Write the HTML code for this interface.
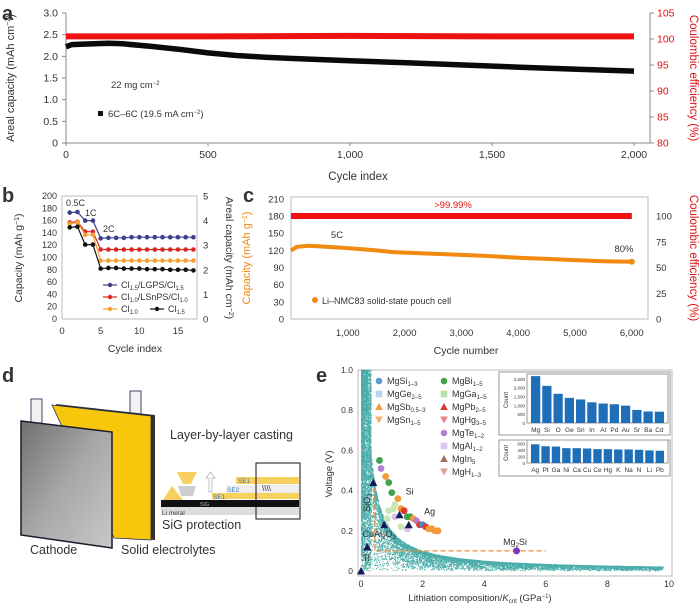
<!DOCTYPE html>
<html><head><meta charset="utf-8">
<style>
html,body{margin:0;padding:0;background:#fff;}
svg{display:block;font-family:"Liberation Sans",sans-serif;}
text{fill:#333;}
</style></head>
<body>
<svg id="fig" width="700" height="609" viewBox="0 0 700 609" xmlns="http://www.w3.org/2000/svg">
<text x="2" y="20" font-size="20" font-weight="bold" fill="#111">a</text>
<text x="2" y="202" font-size="20" font-weight="bold" fill="#111">b</text>
<text x="243" y="202" font-size="20" font-weight="bold" fill="#111">c</text>
<text x="2" y="382" font-size="20" font-weight="bold" fill="#111">d</text>
<text x="316" y="382" font-size="20" font-weight="bold" fill="#111">e</text>

<g id="pa">
 <line x1="66" y1="13" x2="66" y2="143" stroke="#888"/>
 <line x1="66" y1="143" x2="650" y2="143" stroke="#888"/>
 <line x1="650" y1="13" x2="650" y2="143" stroke="#888"/>
 <text x="14" y="78" font-size="11" text-anchor="middle" transform="rotate(-90 14 78)">Areal capacity (mAh cm<tspan dy="-4" font-size="7">−2</tspan><tspan dy="4">)</tspan></text>
 <text x="690" y="78" font-size="11.5" text-anchor="middle" style="fill:#e01010" transform="rotate(90 690 78)">Coulombic efficiency (%)</text>
 <text x="358" y="180" font-size="11.5" text-anchor="middle">Cycle index</text>
 <text x="111" y="88" font-size="9.5">22 mg cm<tspan dy="-3" font-size="6">−2</tspan></text>
 <rect x="98" y="111" width="5" height="5" fill="#111"/>
 <text x="108" y="117" font-size="9.5">6C–6C (19.5 mA cm<tspan dy="-3" font-size="6">−2</tspan><tspan dy="3">)</tspan></text>
</g>

<g id="pb">
 <rect x="62" y="196" width="135" height="123" fill="none" stroke="#bbb"/>
 <text x="22" y="258" font-size="10.5" text-anchor="middle" transform="rotate(-90 22 258)">Capacity (mAh g<tspan dy="-3" font-size="7">−1</tspan><tspan dy="3">)</tspan></text>
 <text x="226" y="258" font-size="10.5" text-anchor="middle" transform="rotate(90 226 258)">Areal capacity (mAh cm<tspan dy="-3" font-size="7">−2</tspan><tspan dy="3">)</tspan></text>
 <text x="135" y="352" font-size="10.5" text-anchor="middle">Cycle index</text>
 <text x="66" y="206" font-size="9">0.5C</text>
 <text x="85" y="216" font-size="9">1C</text>
 <text x="103" y="232" font-size="9">2C</text>
</g>

<g id="pc">
 <rect x="291" y="197" width="357" height="122" fill="none" stroke="#bbb"/>
 <text x="250" y="258" font-size="11" text-anchor="middle" style="fill:#f08a10" transform="rotate(-90 250 258)">Capacity (mAh g<tspan dy="-3" font-size="7">−1</tspan><tspan dy="3">)</tspan></text>
 <text x="690" y="258" font-size="11.5" text-anchor="middle" style="fill:#e01010" transform="rotate(90 690 258)">Coulombic efficiency (%)</text>
 <text x="466" y="354" font-size="10.5" text-anchor="middle">Cycle number</text>
 <text x="453" y="208" font-size="9.5" text-anchor="middle" style="fill:#e01010">&gt;99.99%</text>
 <text x="337" y="238" font-size="9.5" text-anchor="middle">5C</text>
 <text x="624" y="252" font-size="9.5" text-anchor="middle">80%</text>
 <circle cx="315" cy="300" r="3" fill="#f08a10"/>
 <text x="322" y="304" font-size="9">Li–NMC83 solid-state pouch cell</text>
</g>

<g id="pd">
 <defs>
  <linearGradient id="gcath" x1="0" y1="0" x2="1" y2="1">
   <stop offset="0" stop-color="#707070"/><stop offset="0.5" stop-color="#a8a8a8"/><stop offset="1" stop-color="#c8c8c8"/>
  </linearGradient>
 </defs>
 <rect x="31" y="399" width="11" height="24" fill="#f2f2f2" stroke="#3a4a66" stroke-width="1"/>
 <rect x="130" y="391" width="11" height="24" fill="#f2f2f2" stroke="#3a4a66" stroke-width="1"/>
 <polygon points="56,404 155,415 155,540 118,538" fill="#333"/>
 <polygon points="52,405 151,416 151,540 114,538" fill="#f8c60a" stroke="#1f2f55" stroke-width="0.8"/>
 <polygon points="21,421 112,432 112,548 21,535" fill="url(#gcath)" stroke="#1b1b2b" stroke-width="1.5"/>
 <text x="30" y="554" font-size="12.5" fill="#111">Cathode</text>
 <text x="121" y="554" font-size="12.5" fill="#111">Solid electrolytes</text>
 <text x="170" y="439" font-size="12.5" fill="#111">Layer-by-layer casting</text>
 <rect x="161" y="507" width="138" height="8" fill="#ddd"/>
 <rect x="161" y="500" width="138" height="7" fill="#111"/>
 <rect x="212" y="493" width="87" height="6" fill="#f8d060"/>
 <rect x="226" y="485" width="73" height="8" fill="#eee"/>
 <rect x="236" y="477" width="63" height="7" fill="#f8d060"/>
 <polygon points="163,500 172,486 183,500" fill="#f8d060"/>
 <polygon points="177,472 197,472 191,484 183,484" fill="#f8d060"/>
 <polygon points="178,486 196,486 193,496 181,496" fill="#cfcfcf"/>
 <path d="M209 492 L209 478 L206 478 L210.5 472 L215 478 L212 478 L212 492 Z" fill="#fff" stroke="#aaa" stroke-width="0.7"/>
 <text x="238" y="483" font-size="6.5" style="fill:#3a7ab8">SE1</text>
 <text x="227" y="492" font-size="6.5" style="fill:#3a7ab8">SE2</text>
 <text x="213" y="499" font-size="6.5" style="fill:#3a7ab8">SE1</text>
 <text x="200" y="506" font-size="5.5" style="fill:#bbb">SiG</text>
 <text x="162" y="515" font-size="6.5" style="fill:#444">Li metal</text>
 <rect x="256" y="463" width="44" height="56" fill="none" stroke="#111" stroke-width="1"/>
 <text x="262" y="491" font-size="8" fill="#111">\\\\</text>
 <text x="162" y="529" font-size="12.5" fill="#111">SiG protection</text>
</g>

<g id="pe">
 <rect x="358" y="370" width="314" height="206" fill="none" stroke="#bbb"/>
 <text x="332" y="474" font-size="9.5" text-anchor="middle" transform="rotate(-90 332 474)">Voltage (V)</text>
 <text x="480" y="601" font-size="9.5" text-anchor="middle">Lithiation composition/<tspan font-style="italic">K</tspan><tspan font-size="6" dy="2">crit</tspan><tspan dy="-2"> (GPa</tspan><tspan dy="-3" font-size="6">−1</tspan><tspan dy="3">)</tspan></text>
</g>
<g id="layer-cloud"></g>
<g id="layer-marks"></g>
</svg>

<script>
// ===== Panel a data =====
const aCycles = [0, 20, 50, 100, 150, 200, 300, 400, 500, 600, 700, 800, 1000, 1200, 1400, 1600, 1800, 2000];
const aCapacity = [2.22, 2.27, 2.28, 2.29, 2.30, 2.29, 2.23, 2.16, 2.08, 2.02, 1.98, 1.95, 1.90, 1.85, 1.80, 1.75, 1.70, 1.66];
const aCeCycles = [0, 500, 1000, 1500, 2000];
const aCe = [100.5, 100.5, 100.6, 100.5, 100.5];
const aXTicks = [0, 500, 1000, 1500, 2000];
const aXTickLabels = ["0", "500", "1,000", "1,500", "2,000"];
const aYTicks = [0, 0.5, 1.0, 1.5, 2.0, 2.5, 3.0];
const aYTickLabels = ["0", "0.5", "1.0", "1.5", "2.0", "2.5", "3.0"];
const aY2Ticks = [80, 85, 90, 95, 100, 105];

// ===== Panel b data =====
const bCycles = [1, 2, 3, 4, 5, 6, 7, 8, 9, 10, 11, 12, 13, 14, 15, 16, 17];
const bLGPS = [173, 174, 160, 160, 131, 132, 132, 132, 133, 133, 133, 133, 133, 133, 133, 133, 133];
const bLSnPS = [157, 158, 142, 142, 113, 113, 113, 113, 113, 113, 113, 113, 113, 113, 113, 113, 113];
const bCl10 = [155, 157, 137, 137, 95, 95, 95, 95, 95, 95, 95, 95, 95, 95, 95, 95, 95];
const bCl15 = [149, 150, 121, 121, 82, 83, 83, 82, 82, 82, 81, 81, 81, 80, 80, 80, 79];
const bXTicks = [0, 5, 10, 15];
const bYTicks = [0, 20, 40, 60, 80, 100, 120, 140, 160, 180, 200];
const bY2Ticks = [0, 1, 2, 3, 4, 5];

// ===== Panel c data =====
const cCycles = [0, 100, 300, 500, 1000, 1500, 1800, 2000, 2500, 3000, 3500, 4000, 4500, 5000, 5500, 6000];
const cCapacity = [120, 126, 128, 127, 124, 120, 117, 116, 114, 112, 110, 107, 105, 103, 101, 100];
const cCeCycles = [0, 6000];
const cCe = [100, 100];
const cXTicks = [1000, 2000, 3000, 4000, 5000, 6000];
const cXTickLabels = ["1,000", "2,000", "3,000", "4,000", "5,000", "6,000"];
const cYTicks = [0, 30, 60, 90, 120, 150, 180, 210];
const cY2Ticks = [0, 25, 50, 75, 100];

// ===== Panel e data =====
const eXTicks = [0, 2, 4, 6, 8, 10];
const eYTicks = [0, 0.2, 0.4, 0.6, 0.8, 1.0];
const eYTickLabels = ["0", "0.2", "0.4", "0.6", "0.8", "1.0"];
const eRefX = [0, 0.2, 0.4, 0.75, 1.25, 1.55];
const eRefV = [0.0, 0.12, 0.44, 0.23, 0.28, 0.23];
const eCompX = [0.6, 0.65, 0.8, 0.9, 1.0, 1.1, 1.2, 1.3, 1.4, 1.5, 1.6, 1.7, 1.8, 1.9, 2.0, 2.1, 2.2, 2.3, 2.4, 2.5, 0.9, 1.1, 1.3, 1.5, 0.85, 1.05];
const eCompV = [0.55, 0.51, 0.47, 0.44, 0.39, 0.33, 0.36, 0.31, 0.30, 0.27, 0.27, 0.26, 0.25, 0.23, 0.23, 0.22, 0.21, 0.21, 0.20, 0.20, 0.30, 0.27, 0.22, 0.21, 0.26, 0.31];
const eCompColor = ["#3fa34d","#b57fd0","#f59a3a","#3fa34d","#3fa34d","#c9e6b5","#f59a3a","#f59a3a","#e23a2a","#3fa34d","#3fa34d","#f59a3a","#b57fd0","#e23a2a","#3a8cd0","#e23a2a","#f59a3a","#f59a3a","#f59a3a","#f59a3a","#c9e6b5","#d9c0e8","#c9e6b5","#d9c0e8","#c9e6b5","#c9e6b5"];
const eMg2SiX = [5.05];
const eMg2SiV = [0.10];
const eInset1Cats = ["Mg","Si","O","Ge","Sn","In","Al","Pd","Au","Sr","Ba","Cd"];
const eInset1Vals = [2650, 2100, 1650, 1420, 1330, 1170, 1100, 1060, 980, 740, 650, 640];
const eInset1Ticks = [0, 500, 1000, 1500, 2000, 2500];
const eInset1TickLabels = ["0", "500", "1,000", "1,500", "2,000", "2,500"];
const eInset2Cats = ["Ag","Pt","Ga","Ni","Ca","Cu","Ce","Hg","K","Na","N","Li","Pb"];
const eInset2Vals = [580, 520, 510, 460, 460, 450, 430, 430, 420, 420, 410, 390, 380];
const eInset2Ticks = [0, 200, 400, 600];

const NS = "http://www.w3.org/2000/svg";
const marks = document.getElementById('layer-marks');
const cloud = document.getElementById('layer-cloud');
function mk(tag, parent) { const e = document.createElementNS(NS, tag); (parent || marks).appendChild(e); return e; }
function txt(x, y, s, size, anchor, color) {
  const t = mk('text');
  t.setAttribute('x', x); t.setAttribute('y', y);
  t.setAttribute('font-size', size); t.setAttribute('text-anchor', anchor || 'middle');
  if (color) t.setAttribute('style', 'fill:' + color);
  t.textContent = s;
  return t;
}
function pathFrom(xs, ys, fx, fy) { return xs.map((v, i) => (i ? 'L' : 'M') + fx(v).toFixed(1) + ' ' + fy(ys[i]).toFixed(1)).join(' '); }

// ===== Panel a =====
const xa = v => 66 + v * (634 - 66) / 2000;
const ya = v => 143 - v * 130 / 3;
const ya2 = v => 143 - (v - 80) * 130 / 25;
aXTicks.forEach((v, i) => {
  const t = txt(xa(v), 158, aXTickLabels[i], 10.5);
  
  
  const l = mk('line'); l.setAttribute('x1', xa(v)); l.setAttribute('x2', xa(v)); l.setAttribute('y1', 143); l.setAttribute('y2', 146); l.setAttribute('stroke', '#888');
  
  
});
aYTicks.forEach((v, i) => {
  const t = txt(58, ya(v) + 3.5, aYTickLabels[i], 10.5, 'end');
  
  
  const l = mk('line'); l.setAttribute('x1', 62); l.setAttribute('x2', 66); l.setAttribute('y1', ya(v)); l.setAttribute('y2', ya(v)); l.setAttribute('stroke', '#888');
  
  
});
aY2Ticks.forEach(v => {
  const t = txt(657, ya2(v) + 3.5, String(v), 10.5, 'start', '#e01010');
  
  
  const l = mk('line'); l.setAttribute('x1', 650); l.setAttribute('x2', 654); l.setAttribute('y1', ya2(v)); l.setAttribute('y2', ya2(v)); l.setAttribute('stroke', '#888');
  
  
});
{
  const p = mk('path'); p.setAttribute('d', pathFrom(aCeCycles, aCe, xa, ya2)); p.setAttribute('stroke', '#ee1111'); p.setAttribute('stroke-width', 6); p.setAttribute('fill', 'none');
  
  
  const q = mk('path'); q.setAttribute('d', pathFrom(aCycles, aCapacity, xa, ya)); q.setAttribute('stroke', '#0a0a0a'); q.setAttribute('stroke-width', 5.5); q.setAttribute('fill', 'none');
  
  
}

// ===== Panel b =====
const xb = v => 62 + v * 7.73;
const yb = v => 319 - v * 123 / 200;
const yb2 = v => 319 - v * 123 / 5;
bXTicks.forEach(v => {
  const t = txt(xb(v), 334, String(v), 9.5);
  
  
});
bYTicks.forEach(v => {
  const t = txt(57, yb(v) + 3, String(v), 9, 'end');
  
  
});
bY2Ticks.forEach(v => {
  const t = txt(203, yb2(v) + 3.5, String(v), 9.5, 'start');
  
  
});
const bSeries = [[bLGPS, '#3c3f8c', 'b-series-lgps'], [bLSnPS, '#e02525', 'b-series-lsnps'], [bCl10, '#f5a030', 'b-series-cl10'], [bCl15, '#111111', 'b-series-cl15']];
bSeries.forEach(([vals, col, nm]) => {
  const p = mk('path'); p.setAttribute('d', pathFrom(bCycles, vals, xb, yb)); p.setAttribute('stroke', col); p.setAttribute('stroke-width', 1.2); p.setAttribute('fill', 'none');
  
  
  vals.forEach((v, i) => {
    const c = mk('circle'); c.setAttribute('cx', xb(bCycles[i])); c.setAttribute('cy', yb(v)); c.setAttribute('r', 2.3); c.setAttribute('fill', col);
    
    
  });
});
const bLeg = [[103, 288, '#3c3f8c', 'Cl', '1.5', '/LGPS/Cl', '1.5'], [103, 300, '#e02525', 'Cl', '1.0', '/LSnPS/Cl', '1.0'], [103, 312, '#f5a030', 'Cl', '1.0', '', ''], [150, 312, '#111111', 'Cl', '1.5', '', '']];
bLeg.forEach(([x, y, col, a, s1, b, s2]) => {
  const l = mk('line'); l.setAttribute('x1', x); l.setAttribute('x2', x + 14); l.setAttribute('y1', y - 3); l.setAttribute('y2', y - 3); l.setAttribute('stroke', col); l.setAttribute('stroke-width', 1.2);
  
  
  const c = mk('circle'); c.setAttribute('cx', x + 7); c.setAttribute('cy', y - 3); c.setAttribute('r', 2.2); c.setAttribute('fill', col);
  
  
  const t = mk('text'); t.setAttribute('x', x + 18); t.setAttribute('y', y); t.setAttribute('font-size', 9);
  
  
  t.innerHTML = a + '<tspan font-size="6" dy="2">' + s1 + '</tspan><tspan dy="-2">' + b + '</tspan>' + (s2 ? '<tspan font-size="6" dy="2">' + s2 + '</tspan>' : '');
});

// ===== Panel c =====
const xc = v => 291 + v * 0.0568;
const yc = v => 319 - v * 0.572;
const yc2 = v => 319 - v * 1.03;
cXTicks.forEach((v, i) => {
  const t = txt(xc(v), 336, cXTickLabels[i], 9.5);
  
  
});
cYTicks.forEach(v => {
  const t = txt(284, yc(v) + 3.5, String(v), 9.5, 'end');
  
  
});
cY2Ticks.forEach(v => {
  const t = txt(656, yc2(v) + 3.5, String(v), 9.5, 'start');
  
  
});
{
  const p = mk('path'); p.setAttribute('d', pathFrom(cCeCycles, cCe, xc, yc2)); p.setAttribute('stroke', '#ee1111'); p.setAttribute('stroke-width', 6); p.setAttribute('fill', 'none');
  
  
  const q = mk('path'); q.setAttribute('d', pathFrom(cCycles, cCapacity, xc, yc)); q.setAttribute('stroke', '#f08a10'); q.setAttribute('stroke-width', 4); q.setAttribute('fill', 'none');
  
  
  const e = mk('circle'); e.setAttribute('cx', xc(cCycles[cCycles.length - 1])); e.setAttribute('cy', yc(cCapacity[cCapacity.length - 1])); e.setAttribute('r', 3); e.setAttribute('fill', '#f08a10');
  
  
}

// ===== Panel e =====
const xe = v => 361 + v * 30.8;
const ye = v => 571 - v * 201;
eXTicks.forEach(v => {
  const t = txt(xe(v), 587, String(v), 9);
  
  
});
eYTicks.forEach((v, i) => {
  const t = txt(353, ye(v) + 3, eYTickLabels[i], 8.5, 'end');
  
  
});
// scatter cloud texture (deterministic)
let seed = 12345;
function rnd() { seed = (seed * 1103515245 + 12345) % 2147483648; return seed / 2147483648; }
let cloudPath = '';
for (let i = 0; i < 11000; i++) {
  let x, y;
  const r = rnd();
  if (r < 0.25) { x = Math.pow(rnd(), 1.3) * 0.32; y = Math.pow(rnd(), 0.8); }
  else if (r < 0.5) { x = Math.pow(rnd(), 1.7) * 9.8; const cap = Math.min(1, 0.2 / (x + 0.02)); y = cap * (0.8 + 0.2 * rnd()); }
  else { x = Math.pow(rnd(), 1.9) * 9.8; const cap = Math.min(1, 0.2 / (x + 0.02)); y = cap * Math.pow(rnd(), 0.6); }
  if (y > 1) y = 1;
  cloudPath += 'M' + xe(x).toFixed(1) + ' ' + ye(y).toFixed(1) + 'h1';
}
{
  const p = mk('path', cloud); p.setAttribute('d', cloudPath); p.setAttribute('stroke', '#1e9893'); p.setAttribute('stroke-width', 1.1); p.setAttribute('fill', 'none'); p.setAttribute('opacity', 0.8);
  
  
}
{
  const d = mk('path'); d.setAttribute('d', 'M' + xe(0.45) + ' ' + ye(0.45) + ' L' + xe(0.45) + ' ' + ye(0.1) + ' L' + xe(6) + ' ' + ye(0.1));
  d.setAttribute('stroke', '#f08a30'); d.setAttribute('stroke-width', 1.3); d.setAttribute('stroke-dasharray', '5 3'); d.setAttribute('fill', 'none');
  
  
}
eCompX.forEach((v, i) => {
  const c = mk('circle'); c.setAttribute('cx', xe(v)); c.setAttribute('cy', ye(eCompV[i])); c.setAttribute('r', 3.4); c.setAttribute('fill', eCompColor[i]);
  
  
});
eRefX.forEach((v, i) => {
  const cx = xe(v), cy = ye(eRefV[i]);
  const t = mk('polygon'); t.setAttribute('points', (cx - 4) + ',' + (cy + 3.5) + ' ' + (cx + 4) + ',' + (cy + 3.5) + ' ' + cx + ',' + (cy - 4)); t.setAttribute('fill', '#121a5a');
  
  
});
eMg2SiX.forEach((v, i) => {
  const c = mk('circle'); c.setAttribute('cx', xe(v)); c.setAttribute('cy', ye(eMg2SiV[i])); c.setAttribute('r', 3.5); c.setAttribute('fill', '#7a3ab8');
  
  
});
[[xe(0.05), ye(0.05), 'Ti', 'e-label-ti'], [xe(1.45), ye(0.38), 'Si', 'e-label-si'], [xe(2.05), ye(0.28), 'Ag', 'e-label-ag']].forEach(([x, y, s, nm]) => {
  const t = txt(x, y, s, 9, 'start', '#222');
  
  
});
{
  const t = mk('text'); t.setAttribute('x', xe(0.05)); t.setAttribute('y', ye(0.17)); t.setAttribute('font-size', 9);
  t.innerHTML = 'CuAl<tspan font-size="6" dy="2">2</tspan><tspan dy="-2">O</tspan><tspan font-size="6" dy="2">3</tspan>';
  
  
  const s = mk('text'); s.setAttribute('x', xe(0.3)); s.setAttribute('y', ye(0.34)); s.setAttribute('font-size', 9); s.setAttribute('text-anchor', 'middle');
  s.setAttribute('transform', 'rotate(-90 ' + xe(0.3) + ' ' + ye(0.34) + ')');
  s.innerHTML = 'SiO<tspan font-size="6" dy="2">2</tspan>';
  
  
  const m = mk('text'); m.setAttribute('x', xe(5.0)); m.setAttribute('y', ye(0.13)); m.setAttribute('font-size', 9); m.setAttribute('text-anchor', 'middle');
  m.innerHTML = 'Mg<tspan font-size="6" dy="2">2</tspan><tspan dy="-2">Si</tspan>';
  
  
}
const eLegend = [
  [379, 384, 'circle', '#5b9bd5', 'MgSi', '1–3'], [379, 397, 'square', '#bcd4ef', 'MgGe', '2–5'], [379, 410, 'tri', '#f59a3a', 'MgSb', '0.5–3'], [379, 423, 'tridown', '#f5b06a', 'MgSn', '1–5'],
  [444, 384, 'circle', '#3fa34d', 'MgBi', '1–5'], [444, 397, 'square', '#b9e3a6', 'MgGa', '1–5'], [444, 410, 'tri', '#e23a2a', 'MgPb', '2–5'], [444, 423, 'tridown', '#f08080', 'MgHg', '3–5'],
  [444, 436, 'circle', '#b57fd0', 'MgTe', '1–2'], [444, 449, 'square', '#dcc8ee', 'MgAl', '1–2'], [444, 462, 'tri', '#a0705a', 'MgIn', '5'], [444, 475, 'tridown', '#d9a090', 'MgH', '1–3']
];
eLegend.forEach(([x, y, shp, col, base, sub]) => {
  let m;
  if (shp === 'circle') { m = mk('circle'); m.setAttribute('cx', x); m.setAttribute('cy', y - 3); m.setAttribute('r', 3.3); }
  else if (shp === 'square') { m = mk('rect'); m.setAttribute('x', x - 3.3); m.setAttribute('y', y - 6.3); m.setAttribute('width', 6.6); m.setAttribute('height', 6.6); }
  else if (shp === 'tri') { m = mk('polygon'); m.setAttribute('points', (x - 3.8) + ',' + y + ' ' + (x + 3.8) + ',' + y + ' ' + x + ',' + (y - 7)); }
  else { m = mk('polygon'); m.setAttribute('points', (x - 3.8) + ',' + (y - 6.5) + ' ' + (x + 3.8) + ',' + (y - 6.5) + ' ' + x + ',' + (y + 0.5)); }
  m.setAttribute('fill', col);
  
  
  const t = mk('text'); t.setAttribute('x', x + 8); t.setAttribute('y', y); t.setAttribute('font-size', 9);
  t.innerHTML = base + '<tspan font-size="6" dy="2">' + sub + '</tspan>';
  
  
});
function inset(cats, vals, ticks, tickLabels, top, bottom, maxV, frameTop, frameBottom, nm) {
  const left = 527, right = 668;
  const fr = mk('rect'); fr.setAttribute('x', 499); fr.setAttribute('y', frameTop); fr.setAttribute('width', right - 497); fr.setAttribute('height', frameBottom - frameTop); fr.setAttribute('fill', '#fff'); fr.setAttribute('stroke', '#999');
  
  
  const ax = mk('rect'); ax.setAttribute('x', left); ax.setAttribute('y', top - 3); ax.setAttribute('width', right - left); ax.setAttribute('height', bottom - top + 3); ax.setAttribute('fill', 'none'); ax.setAttribute('stroke', '#999');
  
  
  const yy = v => bottom - v * (bottom - top) / maxV;
  const bw = (right - left - 6) / cats.length;
  cats.forEach((c, i) => {
    const x = left + 3 + i * bw;
    const b = mk('rect'); b.setAttribute('x', x + 1); b.setAttribute('y', yy(vals[i])); b.setAttribute('width', bw - 2); b.setAttribute('height', bottom - yy(vals[i])); b.setAttribute('fill', '#1f6fb8');
    
    
    const t = txt(x + bw / 2, bottom + 9, c, 6.5);
    
    
  });
  ticks.forEach((v, i) => {
    const t = txt(left - 2, yy(v) + 2, tickLabels[i], 4.5, 'end');
    
    
  });
  const ct = mk('text'); const cy = (top + bottom) / 2; ct.setAttribute('x', 508); ct.setAttribute('y', cy); ct.setAttribute('font-size', 6); ct.setAttribute('text-anchor', 'middle');
  ct.setAttribute('transform', 'rotate(-90 508 ' + cy + ')'); ct.textContent = 'Count';
  
  
}
inset(eInset1Cats, eInset1Vals, eInset1Ticks, eInset1TickLabels, 377, 423, 2600, 372, 435, 'e-inset-top');
inset(eInset2Cats, eInset2Vals, eInset2Ticks, eInset2Ticks.map(String), 443, 463, 620, 440, 476, 'e-inset-bottom');
</script>
</body></html>
